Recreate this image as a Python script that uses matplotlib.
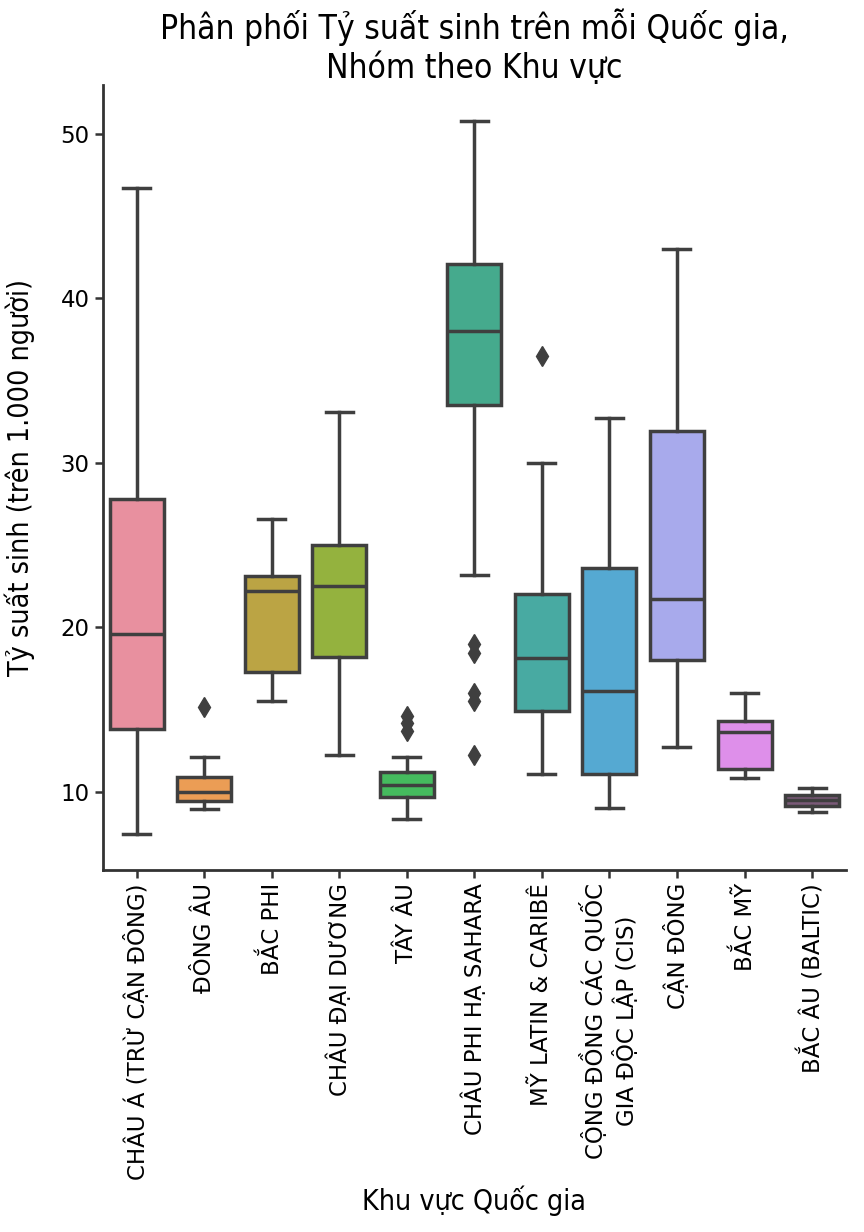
import matplotlib
matplotlib.use("Agg")
import matplotlib.pyplot as plt

regions = ["CHÂU Á (TRỪ CẬN ĐÔNG)", "ĐÔNG ÂU", "BẮC PHI", "CHÂU ĐẠI DƯƠNG", "TÂY ÂU",
           "CHÂU PHI HẠ SAHARA", "MỸ LATIN & CARIBÊ", "CỘNG ĐỒNG CÁC QUỐC\nGIA ĐỘC LẬP (CIS)",
           "CẬN ĐÔNG", "BẮC MỸ", "BẮC ÂU (BALTIC)"]
whis_lo = [7.4, 8.95, 15.5, 12.2, 8.35, 23.2, 11.1, 9.0, 12.7, 10.85, 8.75]
q1      = [13.8, 9.4, 17.3, 18.2, 9.7, 33.5, 14.9, 11.1, 18.0, 11.4, 9.1]
median  = [19.6, 10.0, 22.2, 22.5, 10.4, 38.0, 18.1, 16.1, 21.7, 13.65, 9.5]
q3      = [27.8, 10.9, 23.1, 25.0, 11.2, 42.1, 22.0, 23.6, 31.9, 14.3, 9.8]
whis_hi = [46.7, 12.1, 26.6, 33.1, 12.1, 50.8, 30.0, 32.7, 43.0, 16.0, 10.2]
outliers = [[], [15.15], [], [], [14.6, 14.2, 13.7], [19.0, 18.4, 16.0, 15.5, 12.2],
            [36.5], [], [], [], []]

colors = ["#e8909f", "#eb9d55", "#bba444", "#94b23e", "#45bb5e", "#45aa8d",
          "#48aaa2", "#55a9d2", "#a8aaec", "#de8fea", "#7a5a78"]

stats = []
for i in range(len(regions)):
    stats.append({"whislo": whis_lo[i], "q1": q1[i], "med": median[i], "q3": q3[i],
                  "whishi": whis_hi[i], "fliers": outliers[i]})

fig, ax = plt.subplots(figsize=(8.64, 12.32), dpi=100)
fig.subplots_adjust(left=0.119, right=0.979, bottom=0.2938, top=0.931)

line_col = "#3f3f3f"
bp = ax.bxp(stats, positions=range(len(regions)), widths=0.8, patch_artist=True,
            boxprops=dict(edgecolor=line_col, linewidth=2.5),
            medianprops=dict(color=line_col, linewidth=2.5),
            whiskerprops=dict(color=line_col, linewidth=2.5),
            capprops=dict(color=line_col, linewidth=2.5),
            flierprops=dict(marker="d", markerfacecolor=line_col, markeredgecolor=line_col,
                            markersize=10, linestyle="none"))
for patch, c in zip(bp["boxes"], colors):
    patch.set_facecolor(c)

ax.set_xlim(-0.5, len(regions) - 0.5)
ax.set_xticks(range(len(regions)))
ax.set_xticklabels(regions, rotation=90, fontsize=16.5, family="DejaVu Sans")
ax.set_yticks([10, 20, 30, 40, 50])
ax.tick_params(axis="y", labelsize=16.5)
ax.tick_params(width=1.8, length=6, color="#333333")

ax.spines["top"].set_visible(False)
ax.spines["right"].set_visible(False)
for s in ["left", "bottom"]:
    ax.spines[s].set_linewidth(2)
    ax.spines[s].set_color("#333333")

cond = dict(family="DejaVu Sans", stretch="condensed")
ax.set_title("Phân phối Tỷ suất sinh trên mỗi Quốc gia,\nNhóm theo Khu vực", fontsize=24, pad=1, **cond)
ax.set_xlabel("Khu vực Quốc gia", fontsize=20.5, **cond)
ax.set_ylabel("Tỷ suất sinh (trên 1.000 người)", fontsize=20.5, labelpad=18, **cond)

fig.savefig("out.png", dpi=100)
